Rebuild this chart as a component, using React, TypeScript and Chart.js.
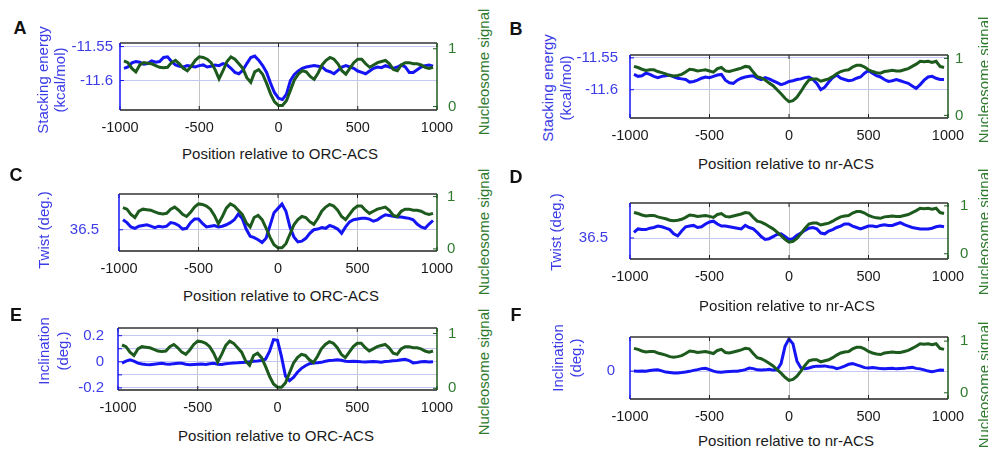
import React, { useEffect, useRef } from "react";
import { Chart, registerables } from "chart.js";
Chart.register(...registerables);

// ---------- data ----------
const POSITIONS = [
  -975, -950, -925, -900, -875, -850, -825, -800, -775, -750,
  -725, -700, -675, -650, -625, -600, -575, -550, -525, -500,
  -475, -450, -425, -400, -375, -350, -325, -300, -275, -250,
  -225, -200, -175, -150, -125, -100, -75, -50, -25, 0,
  25, 50, 75, 100, 125, 150, 175, 200, 225, 250,
  275, 300, 325, 350, 375, 400, 425, 450, 475, 500,
  525, 550, 575, 600, 625, 650, 675, 700, 725, 750,
  775, 800, 825, 850, 875, 900, 925, 950, 975,
];

const NUC_ORC = [
  0.79, 0.76, 0.66, 0.60, 0.72, 0.76, 0.75, 0.74, 0.71, 0.68,
  0.67, 0.68, 0.76, 0.80, 0.74, 0.66, 0.62, 0.70, 0.80, 0.86,
  0.85, 0.82, 0.76, 0.64, 0.48, 0.62, 0.78, 0.86, 0.82, 0.74,
  0.66, 0.50, 0.42, 0.60, 0.64, 0.56, 0.40, 0.22, 0.08, 0.02,
  0.02, 0.10, 0.28, 0.46, 0.56, 0.62, 0.60, 0.52, 0.47, 0.58,
  0.72, 0.80, 0.85, 0.82, 0.74, 0.62, 0.56, 0.66, 0.76, 0.82,
  0.82, 0.74, 0.68, 0.72, 0.76, 0.78, 0.80, 0.74, 0.64, 0.62,
  0.72, 0.76, 0.76, 0.74, 0.74, 0.72, 0.68, 0.66, 0.68,
];

const NUC_NR = [
  0.86, 0.84, 0.81, 0.79, 0.80, 0.80, 0.77, 0.75, 0.73, 0.70,
  0.69, 0.70, 0.72, 0.76, 0.81, 0.80, 0.78, 0.79, 0.80, 0.78,
  0.76, 0.82, 0.84, 0.78, 0.77, 0.79, 0.81, 0.83, 0.86, 0.85,
  0.76, 0.68, 0.66, 0.62, 0.57, 0.52, 0.45, 0.38, 0.30, 0.24,
  0.26, 0.32, 0.42, 0.53, 0.62, 0.64, 0.64, 0.60, 0.62, 0.64,
  0.68, 0.73, 0.77, 0.79, 0.80, 0.85, 0.88, 0.88, 0.85, 0.80,
  0.77, 0.75, 0.74, 0.77, 0.78, 0.79, 0.78, 0.78, 0.80, 0.82,
  0.86, 0.90, 0.95, 0.94, 0.95, 0.93, 0.95, 0.86, 0.84,
];

const STACK_ORC = [
  -11.582, -11.580, -11.574, -11.572, -11.573, -11.576, -11.575, -11.571, -11.573, -11.572,
  -11.566, -11.565, -11.572, -11.577, -11.579, -11.580, -11.578, -11.579, -11.580, -11.578,
  -11.577, -11.580, -11.579, -11.577, -11.578, -11.575, -11.577, -11.582, -11.588, -11.590,
  -11.585, -11.575, -11.566, -11.564, -11.570, -11.578, -11.588, -11.604, -11.618, -11.626,
  -11.628, -11.620, -11.600, -11.591, -11.586, -11.582, -11.580, -11.579, -11.578, -11.579,
  -11.580, -11.585, -11.587, -11.590, -11.585, -11.580, -11.578, -11.580, -11.582, -11.586,
  -11.588, -11.590, -11.586, -11.582, -11.580, -11.581, -11.578, -11.580, -11.582, -11.580,
  -11.577, -11.580, -11.588, -11.588, -11.584, -11.580, -11.578, -11.577, -11.579,
];

const STACK_NR = [
  -11.576, -11.579, -11.578, -11.574, -11.576, -11.579, -11.581, -11.579, -11.578, -11.577,
  -11.580, -11.582, -11.583, -11.584, -11.588, -11.587, -11.585, -11.582, -11.580, -11.581,
  -11.579, -11.577, -11.576, -11.585, -11.589, -11.590, -11.585, -11.582, -11.580, -11.579,
  -11.578, -11.582, -11.584, -11.581, -11.583, -11.586, -11.589, -11.592, -11.590, -11.587,
  -11.586, -11.584, -11.583, -11.581, -11.580, -11.584, -11.590, -11.600, -11.596, -11.588,
  -11.581, -11.577, -11.582, -11.584, -11.586, -11.585, -11.582, -11.580, -11.574, -11.570,
  -11.574, -11.578, -11.580, -11.584, -11.587, -11.586, -11.584, -11.586, -11.588, -11.590,
  -11.594, -11.598, -11.592, -11.585, -11.580, -11.579, -11.582, -11.584, -11.584,
];

const TWIST_ORC = [
  36.57, 36.55, 36.52, 36.51, 36.525, 36.53, 36.535, 36.525, 36.515, 36.525,
  36.52, 36.525, 36.55, 36.545, 36.53, 36.505, 36.51, 36.55, 36.575, 36.575,
  36.545, 36.52, 36.525, 36.53, 36.52, 36.525, 36.535, 36.55, 36.57, 36.61,
  36.58, 36.505, 36.455, 36.445, 36.43, 36.41, 36.44, 36.53, 36.62, 36.65,
  36.68, 36.63, 36.52, 36.45, 36.415, 36.42, 36.44, 36.475, 36.5, 36.505,
  36.515, 36.51, 36.53, 36.52, 36.505, 36.475, 36.52, 36.555, 36.57, 36.575,
  36.58, 36.58, 36.575, 36.56, 36.57, 36.59, 36.605, 36.6, 36.595, 36.59,
  36.59, 36.585, 36.58, 36.57, 36.54, 36.52, 36.51, 36.54, 36.565,
];

const TWIST_NR = [
  36.54, 36.565, 36.56, 36.56, 36.57, 36.575, 36.585, 36.58, 36.57, 36.56,
  36.53, 36.515, 36.55, 36.58, 36.585, 36.59, 36.575, 36.58, 36.6, 36.615,
  36.62, 36.6, 36.585, 36.585, 36.58, 36.575, 36.57, 36.565, 36.59, 36.575,
  36.565, 36.54, 36.51, 36.49, 36.495, 36.51, 36.525, 36.53, 36.51, 36.49,
  36.495, 36.52, 36.535, 36.555, 36.57, 36.575, 36.565, 36.535, 36.53, 36.55,
  36.56, 36.575, 36.585, 36.6, 36.6, 36.585, 36.575, 36.565, 36.575, 36.585,
  36.585, 36.58, 36.59, 36.595, 36.59, 36.59, 36.6, 36.61, 36.595, 36.585,
  36.575, 36.57, 36.565, 36.565, 36.565, 36.57, 36.58, 36.585, 36.58,
];

const INCL_ORC = [
  -0.01, 0.005, 0.015, 0.005, -0.01, -0.017, -0.02, -0.022, -0.018, -0.015,
  -0.012, -0.016, -0.018, -0.014, -0.012, -0.012, -0.018, -0.022, -0.02, -0.018,
  -0.017, -0.02, -0.015, -0.012, -0.018, -0.02, -0.015, -0.012, -0.01, -0.008,
  -0.005, -0.003, 0.0, 0.004, 0.006, 0.01, 0.02, 0.08, 0.17, 0.165,
  0.04, -0.11, -0.145, -0.12, -0.08, -0.05, -0.03, -0.015, -0.01, -0.008,
  -0.004, 0.004, 0.01, 0.012, 0.015, 0.012, 0.005, 0.003, 0.004, 0.003,
  0.0, -0.002, 0.0, 0.002, 0.0, -0.003, 0.003, 0.005, 0.008, 0.01,
  0.015, 0.02, 0.01, -0.008, -0.005, 0.0, 0.002, -0.002, 0.0,
];

const INCL_NR = [
  0.0, -0.002, 0.0, -0.002, 0.004, 0.008, 0.01, 0.002, -0.008, -0.012,
  -0.016, -0.015, -0.012, -0.008, -0.002, 0.006, 0.012, 0.02, 0.022, 0.012,
  0.0, -0.008, -0.01, -0.006, -0.004, -0.002, -0.001, 0.004, 0.012, 0.025,
  0.02, 0.01, 0.008, 0.01, 0.015, 0.008, 0.01, 0.06, 0.2, 0.26,
  0.22, 0.08, 0.025, 0.02, 0.025, 0.035, 0.04, 0.04, 0.042, 0.035,
  0.032, 0.02, 0.028, 0.04, 0.055, 0.06, 0.05, 0.04, 0.028, 0.025,
  0.028, 0.025, 0.02, 0.018, 0.02, 0.022, 0.018, 0.02, 0.022, 0.028,
  0.03, 0.022, 0.018, 0.01, 0.0, -0.005, 0.002, 0.008, 0.006,
];

const X_TICKS = [-1000, -500, 0, 500, 1000];
const NUC_TICKS = [0, 1];
const STACK_TICKS = [-11.6, -11.55];
const TWIST_TICKS = [36.5];
const INCL_ORC_TICKS = [-0.2, -0.1, 0, 0.1, 0.2];
const INCL_ORC_LABELS = ["-0.2", "", "0", "", "0.2"];
const INCL_NR_TICKS = [0];

// ---------- style ----------
const FONT = "'Liberation Sans', Arial, Helvetica, sans-serif";
const BLUE = "#1414f5";
const GREEN = "#1d5a1d";
const BLUE_TXT = "#3c3ce6";
const GREEN_TXT = "#2f7a2f";
const GRID_X = "#c4c4c4";
const GRID_Y = "#c6c6f4";
const LW = 70, RW = 35, PT = 12, XH = 32;

type Panel = {
  letter: string;
  rect: { l: number; t: number; r: number; b: number };
  blue: number[];
  green: number[];
  leftMin: number; leftMax: number; leftTicks: number[]; leftLabels?: string[];
  rightMin: number; rightMax: number;
  leftPad: number; rightPad: number;
  letterPos: [number, number];
  yLines: { text: string; x: number; y: number }[];
  rTitle: [number, number];
  xTitle: { text: string; x: number; y: number };
};

const PANELS: Panel[] = [
  {
    letter: "A", rect: { l: 120, t: 35, r: 437, b: 110 }, blue: STACK_ORC, green: NUC_ORC,
    leftMin: -11.6434, leftMax: -11.5447, leftTicks: STACK_TICKS,
    rightMin: -0.06, rightMax: 1.1, leftPad: 7, rightPad: 11,
    letterPos: [20, 28],
    yLines: [{ text: "Stacking energy", x: 42, y: 80 }, { text: "(kcal/mol)", x: 59, y: 80 }],
    rTitle: [483, 72], xTitle: { text: "Position relative to ORC-ACS", x: 280, y: 153 },
  },
  {
    letter: "B", rect: { l: 630, t: 46, r: 948, b: 118 }, blue: STACK_NR, green: NUC_NR,
    leftMin: -11.6444, leftMax: -11.5455, leftTicks: STACK_TICKS,
    rightMin: -0.046, rightMax: 1.06, leftPad: 12, rightPad: 7,
    letterPos: [516, 29],
    yLines: [{ text: "Stacking energy", x: 547, y: 88 }, { text: "(kcal/mol)", x: 565, y: 88 }],
    rTitle: [983, 80], xTitle: { text: "Position relative to nr-ACS", x: 786, y: 163 },
  },
  {
    letter: "C", rect: { l: 119, t: 177, r: 437, b: 251 }, blue: TWIST_ORC, green: NUC_ORC,
    leftMin: 36.351, leftMax: 36.751, leftTicks: TWIST_TICKS,
    rightMin: -0.04, rightMax: 1.05, leftPad: 20, rightPad: 10,
    letterPos: [16, 175],
    yLines: [{ text: "Twist (deg.)", x: 43, y: 230 }],
    rTitle: [483, 232], xTitle: { text: "Position relative to ORC-ACS", x: 281, y: 295 },
  },
  {
    letter: "D", rect: { l: 630, t: 184, r: 948, b: 259 }, blue: TWIST_NR, green: NUC_NR,
    leftMin: 36.35, leftMax: 36.75, leftTicks: TWIST_TICKS,
    rightMin: -0.11, rightMax: 1.06, leftPad: 22, rightPad: 12,
    letterPos: [516, 177],
    yLines: [{ text: "Twist (deg.)", x: 555, y: 232 }],
    rTitle: [983, 232], xTitle: { text: "Position relative to nr-ACS", x: 787, y: 305 },
  },
  {
    letter: "E", rect: { l: 118, t: 317, r: 437, b: 390 }, blue: INCL_ORC, green: NUC_ORC,
    leftMin: -0.216, leftMax: 0.259, leftTicks: INCL_ORC_TICKS, leftLabels: INCL_ORC_LABELS,
    rightMin: -0.03, rightMax: 1.1, leftPad: 14, rightPad: 11,
    letterPos: [16, 315],
    yLines: [{ text: "Inclination", x: 43, y: 351 }, { text: "(deg.)", x: 62, y: 351 }],
    rTitle: [483, 372], xTitle: { text: "Position relative to ORC-ACS", x: 276, y: 435 },
  },
  {
    letter: "F", rect: { l: 630, t: 325, r: 948, b: 399 }, blue: INCL_NR, green: NUC_NR,
    leftMin: -0.225, leftMax: 0.275, leftTicks: INCL_NR_TICKS,
    rightMin: -0.12, rightMax: 1.08, leftPad: 15, rightPad: 12,
    letterPos: [516, 315],
    yLines: [{ text: "Inclination", x: 557, y: 358 }, { text: "(deg.)", x: 575, y: 358 }],
    rTitle: [983, 385], xTitle: { text: "Position relative to nr-ACS", x: 786, y: 440 },
  },
];

const framePlugin = {
  id: "frame",
  afterDatasetsDraw(chart: any) {
    const { ctx, chartArea } = chart;
    const { left, right, top, bottom } = chartArea;
    const seg = (x1: number, y1: number, x2: number, y2: number, c: string, w = 1.5) => {
      ctx.beginPath();
      ctx.strokeStyle = c;
      ctx.lineWidth = w;
      ctx.moveTo(x1, y1);
      ctx.lineTo(x2, y2);
      ctx.stroke();
    };
    ctx.save();
    const xs = chart.scales.x;
    for (const t of xs.ticks) {
      const px = xs.getPixelForValue(t.value);
      seg(px, bottom, px, bottom - 4, "#222", 1);
      seg(px, top, px, top + 4, "#222", 1);
    }
    const yl = chart.scales.yL;
    for (const t of yl.ticks) {
      const py = yl.getPixelForValue(t.value);
      seg(left, py, left + 4, py, BLUE, 1);
    }
    const yr = chart.scales.yR;
    for (const t of yr.ticks) {
      const py = yr.getPixelForValue(t.value);
      seg(right, py, right - 4, py, GREEN, 1);
    }
    seg(left, top, right, top, "#333");
    seg(left, bottom, right, bottom, "#222");
    seg(left, top, left, bottom, BLUE);
    seg(right, top, right, bottom, GREEN);
    ctx.restore();
  },
};

function PanelChart({ p }: { p: Panel }) {
  const ref = useRef<HTMLCanvasElement | null>(null);
  const w = LW + (p.rect.r - p.rect.l) + RW;
  const h = PT + (p.rect.b - p.rect.t) + XH;
  useEffect(() => {
    if (!ref.current) return;
    const xFont = { family: FONT, size: 14.5 };
    const yFont = { family: FONT, size: 15 };
    const chart = new Chart(ref.current, {
      type: "line",
      data: {
        datasets: [
          {
            data: p.green.map((v, i) => ({ x: POSITIONS[i], y: v })),
            yAxisID: "yR",
            borderColor: GREEN,
            borderWidth: 3,
            pointRadius: 0,
            tension: 0,
          },
          {
            data: p.blue.map((v, i) => ({ x: POSITIONS[i], y: v })),
            yAxisID: "yL",
            borderColor: BLUE,
            borderWidth: 3,
            pointRadius: 0,
            tension: 0,
          },
        ],
      },
      options: {
        animation: false,
        responsive: false,
        devicePixelRatio: 1,
        layout: { padding: { top: PT, left: 0, right: 0, bottom: 0 } },
        plugins: { legend: { display: false }, tooltip: { enabled: false } },
        scales: {
          x: {
            type: "linear",
            position: "bottom",
            min: -1000,
            max: 1000,
            afterBuildTicks: (s: any) => { s.ticks = X_TICKS.map((v) => ({ value: v })); },
            afterFit: (s: any) => { s.height = XH; },
            grid: {
              color: (c: any) => (c.tick && Math.abs(c.tick.value) === 1000 ? "rgba(0,0,0,0)" : GRID_X),
              drawTicks: false,
              lineWidth: 1,
            },
            border: { display: false },
            ticks: {
              color: "#1a1a1a", font: xFont, padding: 9, maxRotation: 0, autoSkip: false,
              callback: (v: any) => String(v),
            },
          },
          yL: {
            type: "linear",
            position: "left",
            min: p.leftMin,
            max: p.leftMax,
            afterBuildTicks: (s: any) => { s.ticks = p.leftTicks.map((v) => ({ value: v })); },
            afterFit: (s: any) => { s.width = LW; },
            grid: { color: GRID_Y, drawTicks: false, lineWidth: 1 },
            border: { display: false },
            ticks: {
              color: BLUE_TXT, font: yFont, padding: p.leftPad, autoSkip: false,
              callback: (v: any, i: number) => (p.leftLabels ? p.leftLabels[i] : String(v)),
            },
          },
          yR: {
            type: "linear",
            position: "right",
            min: p.rightMin,
            max: p.rightMax,
            afterBuildTicks: (s: any) => { s.ticks = NUC_TICKS.map((v) => ({ value: v })); },
            afterFit: (s: any) => { s.width = RW; },
            grid: { display: false, drawTicks: false },
            border: { display: false },
            ticks: {
              color: GREEN_TXT, font: yFont, padding: p.rightPad, autoSkip: false,
              callback: (v: any) => String(v),
            },
          },
        },
      } as any,
      plugins: [framePlugin],
    });
    return () => chart.destroy();
  }, [p]);
  return (
    <canvas
      ref={ref}
      width={w}
      height={h}
      style={{ position: "absolute", left: p.rect.l - LW, top: p.rect.t - PT, width: w, height: h }}
    />
  );
}

const centered = (x: number, y: number, extra: React.CSSProperties = {}): React.CSSProperties => ({
  position: "absolute",
  left: x,
  top: y,
  transform: "translate(-50%, -50%)",
  whiteSpace: "nowrap",
  lineHeight: 1,
  ...extra,
});

export default function App() {
  return (
    <div
      style={{
        position: "absolute", left: 0, top: 0, width: 988, height: 449,
        overflow: "hidden", background: "#fff", fontFamily: FONT,
      }}
    >
      {PANELS.map((p) => <PanelChart key={p.letter} p={p} />)}
      {PANELS.map((p) => (
        <React.Fragment key={"t" + p.letter}>
          <div style={centered(p.letterPos[0], p.letterPos[1], { fontSize: 18, fontWeight: "bold", color: "#111" })}>
            {p.letter}
          </div>
          {p.yLines.map((l) => (
            <div
              key={l.text}
              style={centered(l.x, l.y, { fontSize: 15, color: BLUE_TXT, transform: "translate(-50%, -50%) rotate(-90deg)" })}
            >
              {l.text}
            </div>
          ))}
          <div
            style={centered(p.rTitle[0], p.rTitle[1], { fontSize: 15, color: GREEN_TXT, transform: "translate(-50%, -50%) rotate(-90deg)" })}
          >
            Nucleosome signal
          </div>
          <div style={centered(p.xTitle.x, p.xTitle.y, { fontSize: 15, color: "#1a1a1a" })}>{p.xTitle.text}</div>
        </React.Fragment>
      ))}
    </div>
  );
}
